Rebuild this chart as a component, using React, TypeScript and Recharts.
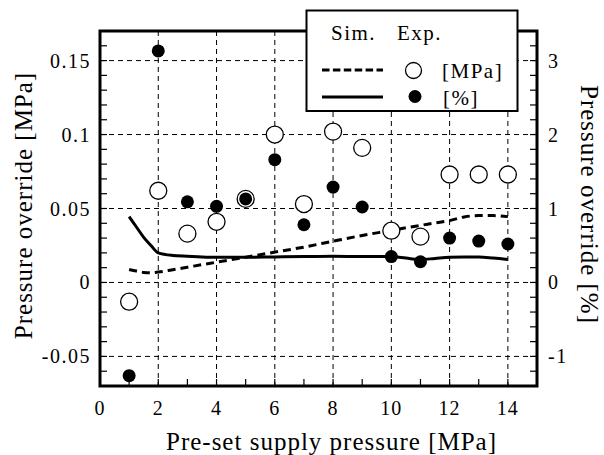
import {
  ComposedChart, Line, Scatter, XAxis, YAxis, CartesianGrid, ReferenceArea, Label,
} from "recharts";

// experiment, one point per pre-set pressure
const expX = [1, 2, 3, 4, 5, 6, 7, 8, 9, 10, 11, 12, 13, 14];
const expMPa = [-0.013, 0.062, 0.033, 0.041, 0.0565, 0.1, 0.053, 0.102, 0.091, 0.035, 0.031, 0.073, 0.073, 0.073];
const expPct = [-1.26, 3.13, 1.09, 1.03, 1.13, 1.66, 0.78, 1.29, 1.02, 0.35, 0.28, 0.6, 0.56, 0.52];

// simulation curves
const simX = [1, 1.25, 1.5, 1.75, 2, 2.5, 3, 3.5, 4, 5, 6, 7, 8, 9, 10, 10.5, 11, 11.5, 12, 12.5, 13, 13.5, 14];
const simMPa = [0.0088, 0.0077, 0.0068, 0.0065, 0.007, 0.0086, 0.0103, 0.012, 0.0137, 0.0171, 0.0205, 0.0239, 0.0279, 0.0318, 0.0352, 0.037, 0.0386, 0.0402, 0.0418, 0.0443, 0.0452, 0.0452, 0.0445];
const simPct = [0.89, 0.75, 0.61, 0.5, 0.4, 0.365, 0.355, 0.345, 0.34, 0.34, 0.345, 0.35, 0.355, 0.35, 0.35, 0.33, 0.31, 0.325, 0.34, 0.345, 0.345, 0.33, 0.31];

const xMajor = [0, 2, 4, 6, 8, 10, 12, 14];
const leftMajor = [-0.05, 0, 0.05, 0.1, 0.15];
const rightMajor = [-1, 0, 1, 2, 3];

const steps = (from: number, to: number, step: number) => {
  const out: number[] = [];
  for (let i = 0; from + i * step <= to + 1e-9; i++) out.push(Math.round((from + i * step) * 1000) / 1000);
  return out;
};
const xTicks = steps(0, 15, 1);
const leftTicks = steps(-0.07, 0.17, 0.01);
const rightTicks = steps(-1.4, 3.4, 0.2);

const expData = expX.map((x, i) => ({ x, mpa: expMPa[i], pct: expPct[i] }));
const simData = simX.map((x, i) => ({ x, mpa: simMPa[i], pct: simPct[i] }));

const FONT = '"Liberation Serif", "Times New Roman", serif';
const GAP = 8;
const TICK = 7;
const isMajor = (list: number[], v: number) => list.some((m) => Math.abs(m - v) < 1e-6);

const LeftTick = (p: any) => {
  const v = p.payload.value;
  const edge = p.x + GAP;
  return (
    <g>
      <line x1={edge} x2={edge + TICK} y1={p.y} y2={p.y} stroke="#000" strokeWidth={1.2} />
      {isMajor(leftMajor, v) && (
        <text x={p.x - 1} y={p.y} dy="0.35em" textAnchor="end" fontSize={20} letterSpacing={1.5} fontFamily={FONT} fill="#000">
          {String(v)}
        </text>
      )}
    </g>
  );
};

const RightTick = (p: any) => {
  const v = p.payload.value;
  const edge = p.x - GAP;
  return (
    <g>
      <line x1={edge} x2={edge - TICK} y1={p.y} y2={p.y} stroke="#000" strokeWidth={1.2} />
      {isMajor(rightMajor, v) && (
        <text x={p.x + 3} y={p.y} dy="0.35em" textAnchor="start" fontSize={20} letterSpacing={1.5} fontFamily={FONT} fill="#000">
          {String(v)}
        </text>
      )}
    </g>
  );
};

const BottomTick = (p: any) => {
  const v = p.payload.value;
  const edge = p.y - GAP;
  return (
    <g>
      <line x1={p.x} x2={p.x} y1={edge} y2={edge - TICK} stroke="#000" strokeWidth={1.2} />
      {isMajor(xMajor, v) && (
        <text x={p.x} y={p.y + 7} dy="0.71em" textAnchor="middle" fontSize={20} letterSpacing={1} fontFamily={FONT} fill="#000">
          {String(v)}
        </text>
      )}
    </g>
  );
};

const OpenDot = (p: any) => <circle cx={p.cx} cy={p.cy} r={8.5} fill="#fff" stroke="#000" strokeWidth={1.3} />;
const FilledDot = (p: any) => <circle cx={p.cx} cy={p.cy} r={6.5} fill="#000" />;

const titleProps = { fontSize: 25, letterSpacing: 1, fontFamily: FONT, fill: "#000" };

export default function App() {
  return (
    <div style={{ position: "absolute", left: 0, top: 0, width: 604, height: 455, background: "#fff" }}>
      <ComposedChart width={604} height={455} margin={{ top: 31, right: 0, bottom: 0, left: 0 }}>
        <CartesianGrid
          yAxisId="left"
          horizontalValues={leftMajor}
          verticalValues={xMajor.filter((v) => v > 0)}
          stroke="#000"
          strokeWidth={1}
          strokeDasharray="5 4"
        />
        <XAxis
          type="number"
          dataKey="x"
          domain={[0, 15]}
          allowDataOverflow
          ticks={xTicks}
          interval={0}
          height={69}
          tickSize={0}
          tickMargin={GAP}
          tickLine={false}
          axisLine={false}
          tick={<BottomTick />}
        >
          <Label
            content={({ viewBox }: any) => (
              <text x={viewBox.x + viewBox.width / 2 + 13} y={450} textAnchor="middle" {...titleProps}>
                Pre-set supply pressure [MPa]
              </text>
            )}
          />
        </XAxis>
        <YAxis
          yAxisId="left"
          type="number"
          domain={[-0.07, 0.17]}
          allowDataOverflow
          ticks={leftTicks}
          interval={0}
          width={100}
          tickSize={0}
          tickMargin={GAP}
          tickLine={false}
          axisLine={false}
          tick={<LeftTick />}
        >
          <Label
            content={({ viewBox }: any) => (
              <text
                transform={`translate(${viewBox.x + 23},${viewBox.y + viewBox.height / 2 - 3}) rotate(-90)`}
                textAnchor="middle"
                dominantBaseline="central"
                {...titleProps}
              >
                Pressure override [MPa]
              </text>
            )}
          />
        </YAxis>
        <YAxis
          yAxisId="right"
          orientation="right"
          type="number"
          domain={[-1.4, 3.4]}
          allowDataOverflow
          ticks={rightTicks}
          interval={0}
          width={67}
          tickSize={0}
          tickMargin={GAP}
          tickLine={false}
          axisLine={false}
          tick={<RightTick />}
        >
          <Label
            content={({ viewBox }: any) => (
              <text
                transform={`translate(${viewBox.x + 52},${viewBox.y + viewBox.height / 2 - 4}) rotate(90)`}
                textAnchor="middle"
                dominantBaseline="central"
                {...titleProps}
              >
                Pressure override [%]
              </text>
            )}
          />
        </YAxis>
        <ReferenceArea
          yAxisId="left"
          x1={0}
          x2={15}
          y1={-0.07}
          y2={0.17}
          fill="none"
          stroke="#000"
          strokeWidth={3}
        />
        <Line
          yAxisId="left"
          data={simData}
          dataKey="mpa"
          type="monotone"
          stroke="#000"
          strokeWidth={3}
          strokeDasharray="8 5"
          dot={false}
          isAnimationActive={false}
        />
        <Line
          yAxisId="right"
          data={simData}
          dataKey="pct"
          type="monotone"
          stroke="#000"
          strokeWidth={3}
          dot={false}
          isAnimationActive={false}
        />
        <Scatter yAxisId="left" data={expData} dataKey="mpa" shape={<OpenDot />} isAnimationActive={false} />
        <Scatter yAxisId="right" data={expData} dataKey="pct" shape={<FilledDot />} isAnimationActive={false} />
      </ComposedChart>

      <svg width={604} height={455} style={{ position: "absolute", left: 0, top: 0, pointerEvents: "none" }}>
        <rect x={306.5} y={10.5} width={211} height={100.5} fill="#fff" stroke="#000" strokeWidth={2} />
        <g fontSize={21} letterSpacing={1.5} fontFamily={FONT} fill="#000">
          <text x={331} y={40}>Sim.</text>
          <text x={397} y={40}>Exp.</text>
          <text x={442} y={78}>[MPa]</text>
          <text x={443} y={104.5}>[%]</text>
        </g>
        <line x1={322} x2={383} y1={70} y2={70} stroke="#000" strokeWidth={3} strokeDasharray="7.5 3.4" />
        <circle cx={413.5} cy={70.5} r={8} fill="#fff" stroke="#000" strokeWidth={1.3} />
        <line x1={322} x2={383} y1={97} y2={97} stroke="#000" strokeWidth={3} />
        <circle cx={415} cy={96.5} r={6.5} fill="#000" />
      </svg>
    </div>
  );
}
